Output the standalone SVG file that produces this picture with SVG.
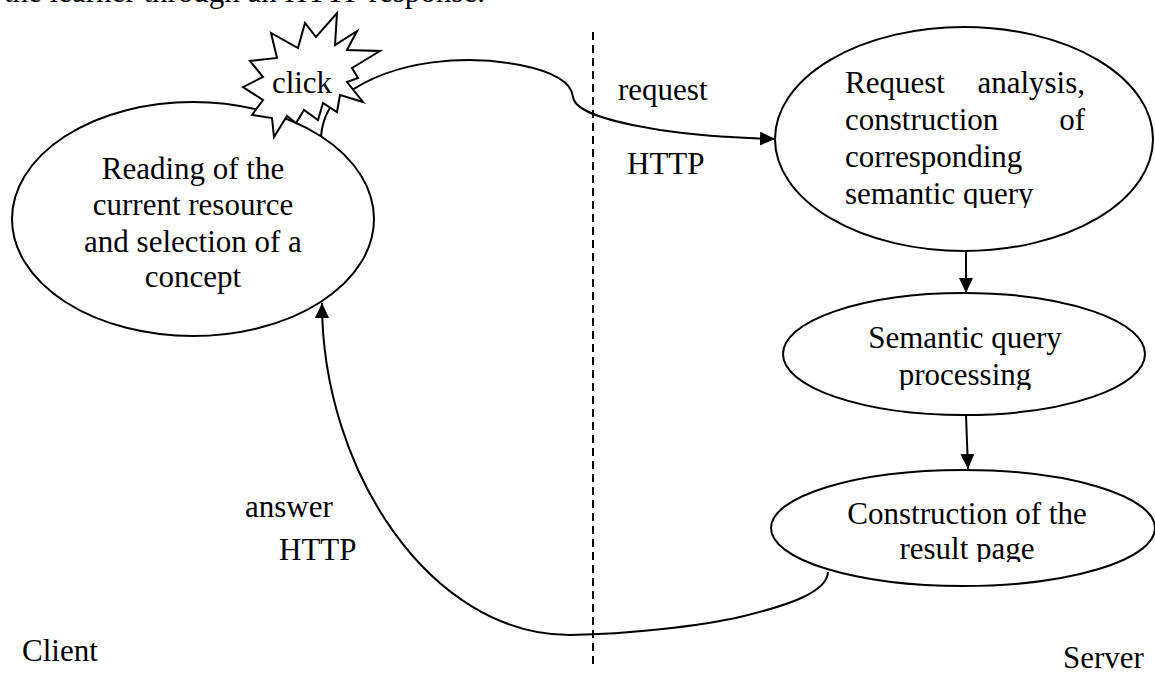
<svg xmlns="http://www.w3.org/2000/svg" width="1155" height="675" viewBox="0 0 1155 675">
<style>
text{font-family:"Liberation Serif","Times New Roman",serif;font-size:31px;fill:#000}
.shape{fill:#fff;stroke:#000;stroke-width:2}
.conn{fill:none;stroke:#000;stroke-width:2}
.mid{text-anchor:middle}
</style>
<defs>
<marker id="arr" markerUnits="userSpaceOnUse" markerWidth="16" markerHeight="15" refX="15" refY="7" orient="auto">
<path d="M0,0 L15,7 L0,14 z" fill="#000"/>
</marker>
<clipPath id="c1"><rect x="800" y="40" width="320" height="168"/></clipPath>
<clipPath id="c2"><rect x="800" y="300" width="320" height="90"/></clipPath>
<clipPath id="c3"><rect x="800" y="480" width="320" height="82"/></clipPath>
</defs>
<rect width="1155" height="675" fill="#fff"/>
<text x="4" y="2">the learner through an HTTP response.</text>

<g id="connectors">
<line x1="593" y1="32" x2="593" y2="665" stroke="#000" stroke-width="2" stroke-dasharray="8,5"/>
<path class="conn" d="M345,95 C 395,58 470,55 520,65 C 560,73 572,85 573,97 C 575,112 610,122 660,130 C 700,136 740,138 775,139" marker-end="url(#arr)"/>
<path class="conn" d="M966,251 L966,293" marker-end="url(#arr)"/>
<path class="conn" d="M966,415 L968,469" marker-end="url(#arr)"/>
<path class="conn" d="M828,572 C 827,592 790,605 740,617 C 700,626 630,634 570,635 C 430,635 322,470 322,303" marker-end="url(#arr)"/>
</g>

<g id="node-reading">
<ellipse class="shape" cx="193" cy="219" rx="181" ry="117"/>
<text class="mid" x="193" y="179">Reading of the</text>
<text class="mid" x="193" y="215">current resource</text>
<text class="mid" x="193" y="252">and selection of a</text>
<text class="mid" x="193" y="287">concept</text>
</g>

<g id="node-click">
<path class="conn" d="M338,98 C 328,108 322,122 321,137"/>
<polygon class="shape" points="337,13 335,45 357,31 347,50 380,51 352,68 358,78 347,82 363,102 340,95 337,112 323,103 318,120 304,110 296,123 287,116 274,137 272,118 252,115 263,100 243,87 263,77 250,61 277,58 271,33 298,48 305,23 316,37"/>
<text class="mid" x="302" y="93">click</text>
</g>

<g id="node-request">
<ellipse class="shape" cx="964" cy="139" rx="189" ry="112"/>
<g clip-path="url(#c1)">
<text x="845" y="93">Request</text>
<text x="1085" y="93" text-anchor="end">analysis,</text>
<text x="845" y="130">construction</text>
<text x="1085" y="130" text-anchor="end">of</text>
<text x="845" y="167">corresponding</text>
<text x="845" y="204">semantic query</text>
</g>
</g>

<g id="node-processing">
<ellipse class="shape" cx="964" cy="354" rx="181" ry="61"/>
<g clip-path="url(#c2)">
<text class="mid" x="965" y="348">Semantic query</text>
<text class="mid" x="965" y="385">processing</text>
</g>
</g>

<g id="node-result">
<ellipse class="shape" cx="963" cy="528" rx="192" ry="58"/>
<g clip-path="url(#c3)">
<text class="mid" x="967" y="524">Construction of the</text>
<text class="mid" x="967" y="559">result page</text>
</g>
</g>

<g id="labels">
<text x="618" y="100">request</text>
<text x="627" y="174">HTTP</text>
<text x="245" y="517">answer</text>
<text x="279" y="560">HTTP</text>
<text x="22" y="661">Client</text>
<text x="1063" y="668">Server</text>
</g>
</svg>
